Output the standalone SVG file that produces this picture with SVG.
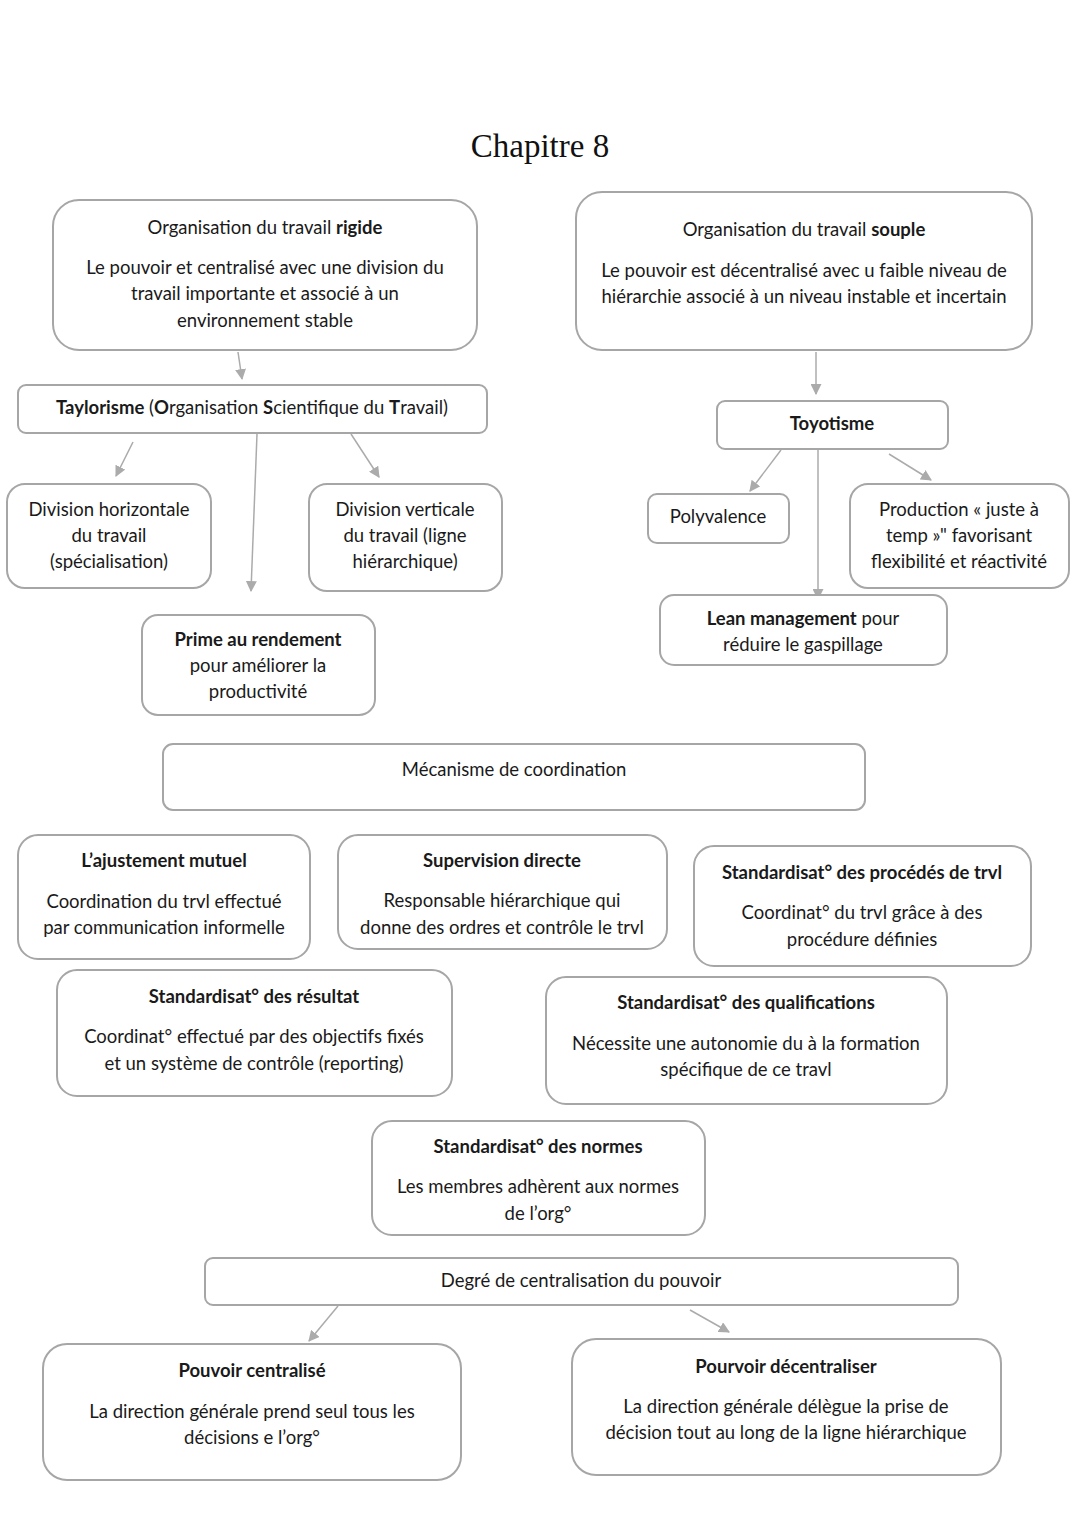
<svg xmlns="http://www.w3.org/2000/svg" width="1080" height="1527" viewBox="0 0 1080 1527">
<style>
.b{fill:#fff;stroke:#a6a6a6;stroke-width:2}
.t{font-family:Lato,"Open Sans",sans-serif;font-size:18.5px;fill:#1a1a1a;text-anchor:middle}
.bd{font-weight:bold}
.c{stroke:#ababab;stroke-width:1.5;fill:none;marker-end:url(#a)}
</style>
<defs>
<marker id="a" viewBox="0 0 10 10" refX="9" refY="5" markerWidth="11" markerHeight="11" markerUnits="userSpaceOnUse" orient="auto"><path d="M0,0L10,5L0,10z" fill="#ababab"/></marker>
</defs>
<rect width="1080" height="1527" fill="#fff"/>
<text x="540" y="157" font-family="Liberation Serif,serif" font-size="33" text-anchor="middle" fill="#111">Chapitre 8</text>

<g id="connectors">
<line class="c" x1="238" y1="352" x2="242" y2="379"/>
<line class="c" x1="133" y1="442" x2="116" y2="476"/>
<line class="c" x1="257" y1="434" x2="251" y2="591"/>
<line class="c" x1="351" y1="434" x2="379" y2="477"/>
<line class="c" x1="816" y1="352" x2="816" y2="394"/>
<line class="c" x1="781" y1="450" x2="750" y2="491"/>
<line class="c" x1="818" y1="450" x2="818" y2="599"/>
<line class="c" x1="889" y1="454" x2="931" y2="480"/>
<line class="c" x1="338" y1="1306" x2="309" y2="1341"/>
<line class="c" x1="690" y1="1310" x2="729" y2="1332"/>
</g>

<g id="rigide">
<rect class="b" x="53" y="200" width="424" height="150" rx="26"/>
<text class="t" x="265" y="234">Organisation du travail <tspan class="bd">rigide</tspan></text>
<text class="t" x="265" y="274">Le pouvoir et centralisé avec une division du</text>
<text class="t" x="265" y="300">travail importante et associé à un</text>
<text class="t" x="265" y="327">environnement stable</text>
</g>
<g id="souple">
<rect class="b" x="576" y="192" width="456" height="158" rx="26"/>
<text class="t" x="804" y="236">Organisation du travail <tspan class="bd">souple</tspan></text>
<text class="t" x="804" y="277">Le pouvoir est décentralisé avec u faible niveau de</text>
<text class="t" x="804" y="303">hiérarchie associé à un niveau instable et incertain</text>
</g>
<g id="taylorisme">
<rect class="b" x="18" y="385" width="469" height="48" rx="8"/>
<text class="t" x="252" y="414"><tspan class="bd">Taylorisme</tspan> (<tspan class="bd">O</tspan>rganisation <tspan class="bd">S</tspan>cientifique du <tspan class="bd">T</tspan>ravail)</text>
</g>
<g id="div-horizontale">
<rect class="b" x="7" y="484" width="204" height="104" rx="18"/>
<text class="t" x="109" y="516">Division horizontale</text>
<text class="t" x="109" y="542">du travail</text>
<text class="t" x="109" y="568">(spécialisation)</text>
</g>
<g id="div-verticale">
<rect class="b" x="309" y="484" width="193" height="107" rx="18"/>
<text class="t" x="405" y="516">Division verticale</text>
<text class="t" x="405" y="542">du travail (ligne</text>
<text class="t" x="405" y="568">hiérarchique)</text>
</g>
<g id="prime">
<rect class="b" x="142" y="615" width="233" height="100" rx="16"/>
<text class="t bd" x="258" y="646">Prime au rendement</text>
<text class="t" x="258" y="672">pour améliorer la</text>
<text class="t" x="258" y="698">productivité</text>
</g>
<g id="toyotisme">
<rect class="b" x="717" y="401" width="231" height="48" rx="8"/>
<text class="t bd" x="832" y="430">Toyotisme</text>
</g>
<g id="polyvalence">
<rect class="b" x="648" y="494" width="141" height="49" rx="9"/>
<text class="t" x="718" y="523">Polyvalence</text>
</g>
<g id="production">
<rect class="b" x="850" y="484" width="219" height="104" rx="18"/>
<text class="t" x="959" y="516">Production « juste à</text>
<text class="t" x="959" y="542">temp »" favorisant</text>
<text class="t" x="959" y="568">flexibilité et réactivité</text>
</g>
<g id="lean">
<rect class="b" x="660" y="595" width="287" height="70" rx="14"/>
<text class="t" x="803" y="625"><tspan class="bd">Lean management</tspan> pour</text>
<text class="t" x="803" y="651">réduire le gaspillage</text>
</g>
<g id="mecanisme">
<rect class="b" x="163" y="744" width="702" height="66" rx="10"/>
<text class="t" x="514" y="776">Mécanisme de coordination</text>
</g>
<g id="ajustement">
<rect class="b" x="18" y="835" width="292" height="124" rx="20"/>
<text class="t bd" x="164" y="867">L’ajustement mutuel</text>
<text class="t" x="164" y="908">Coordination du trvl effectué</text>
<text class="t" x="164" y="934">par communication informelle</text>
</g>
<g id="supervision">
<rect class="b" x="338" y="835" width="329" height="114" rx="20"/>
<text class="t bd" x="502" y="867">Supervision directe</text>
<text class="t" x="502" y="907">Responsable hiérarchique qui</text>
<text class="t" x="502" y="934">donne des ordres et contrôle le trvl</text>
</g>
<g id="procedes">
<rect class="b" x="694" y="846" width="337" height="120" rx="20"/>
<text class="t bd" x="862" y="879">Standardisat° des procédés de trvl</text>
<text class="t" x="862" y="919">Coordinat° du trvl grâce à des</text>
<text class="t" x="862" y="946">procédure définies</text>
</g>
<g id="resultat">
<rect class="b" x="57" y="970" width="395" height="126" rx="20"/>
<text class="t bd" x="254" y="1003">Standardisat° des résultat</text>
<text class="t" x="254" y="1043">Coordinat° effectué par des objectifs fixés</text>
<text class="t" x="254" y="1070">et un système de contrôle (reporting)</text>
</g>
<g id="qualifications">
<rect class="b" x="546" y="977" width="401" height="127" rx="20"/>
<text class="t bd" x="746" y="1009">Standardisat° des qualifications</text>
<text class="t" x="746" y="1050">Nécessite une autonomie du à la formation</text>
<text class="t" x="746" y="1076">spécifique de ce travl</text>
</g>
<g id="normes">
<rect class="b" x="372" y="1121" width="333" height="114" rx="20"/>
<text class="t bd" x="538" y="1153">Standardisat° des normes</text>
<text class="t" x="538" y="1193">Les membres adhèrent aux normes</text>
<text class="t" x="538" y="1220">de l’org°</text>
</g>
<g id="degre">
<rect class="b" x="205" y="1258" width="753" height="47" rx="8"/>
<text class="t" x="581" y="1287">Degré de centralisation du pouvoir</text>
</g>
<g id="centralise">
<rect class="b" x="43" y="1344" width="418" height="136" rx="24"/>
<text class="t bd" x="252" y="1377">Pouvoir centralisé</text>
<text class="t" x="252" y="1418">La direction générale prend seul tous les</text>
<text class="t" x="252" y="1444">décisions e l’org°</text>
</g>
<g id="decentralise">
<rect class="b" x="572" y="1339" width="429" height="136" rx="24"/>
<text class="t bd" x="786" y="1373">Pourvoir décentraliser</text>
<text class="t" x="786" y="1413">La direction générale délègue la prise de</text>
<text class="t" x="786" y="1439">décision tout au long de la ligne hiérarchique</text>
</g>
</svg>
